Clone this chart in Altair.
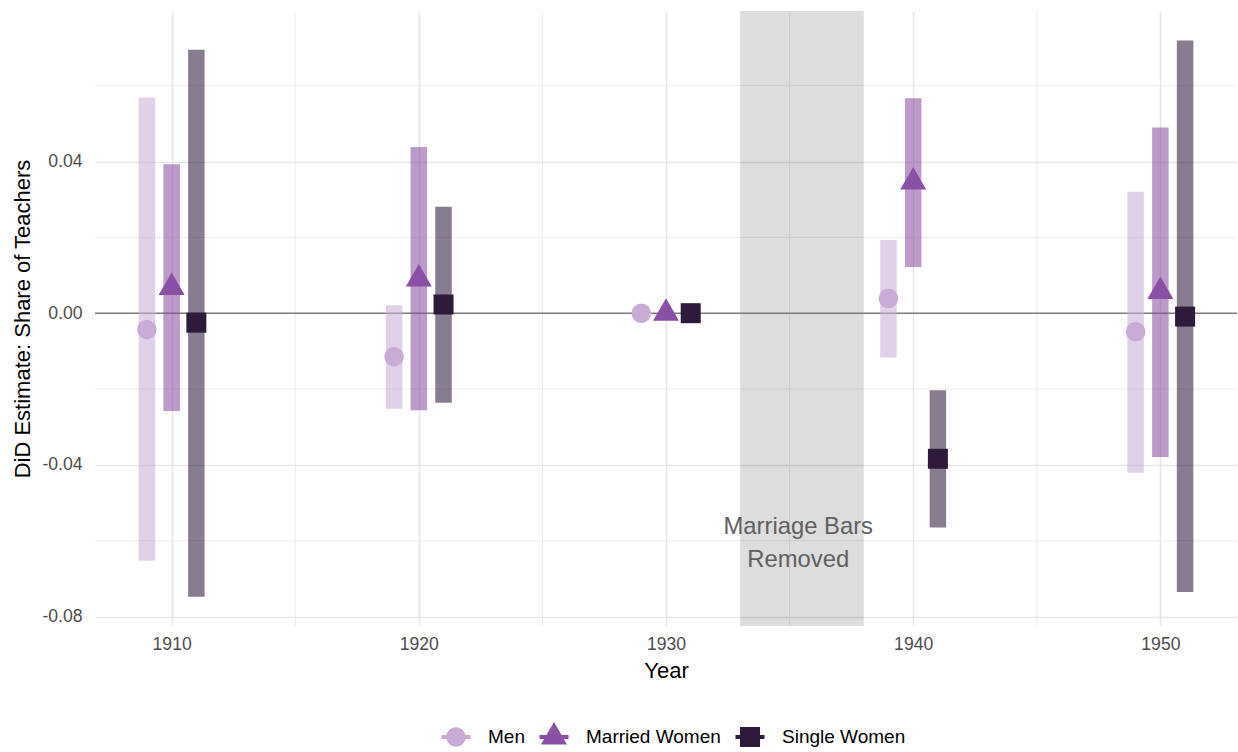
import altair as alt
import pandas as pd

# Census years and the three teacher groups
years = [1910, 1920, 1930, 1940, 1950]
groups = ["Men", "Married Women", "Single Women"]

# DiD estimates with 95% confidence bounds (1930 is the reference year)
men_est = [-0.0043, -0.0115, 0.0, 0.0039, -0.0049]
men_lo = [-0.0653, -0.0252, 0.0, -0.0117, -0.0421]
men_hi = [0.0569, 0.0021, 0.0, 0.0193, 0.0320]

married_est = [0.0068, 0.0090, 0.0, 0.0346, 0.0057]
married_lo = [-0.0258, -0.0256, 0.0, 0.0122, -0.0379]
married_hi = [0.0393, 0.0438, 0.0, 0.0567, 0.0490]

single_est = [-0.0025, 0.0023, 0.0, -0.0384, -0.0009]
single_lo = [-0.0748, -0.0236, 0.0, -0.0565, -0.0735]
single_hi = [0.0695, 0.0281, 0.0, -0.0203, 0.0719]

# Period in which marriage bars were removed
removal_start = [1933]
removal_end = [1938]
removal_label = ["Marriage Bars\nRemoved"]
removal_label_x = [1935.35]
removal_label_y = [-0.0607]

# Axis ticks and minor grid positions
x_ticks = [1910, 1920, 1930, 1940, 1950]
x_minor = [1915, 1925, 1935, 1945]
y_ticks = [-0.08, -0.04, 0.0, 0.04]
y_minor = [-0.06, -0.02, 0.02, 0.06]
ref_line = [0.0]

colors = ["#c8acd6", "#8a50a4", "#2e1b3b"]

# shapes in unit coordinates (10 px per unit at size 400)
shape_circle = "M-0.97,0A0.97,0.97,0,1,1,0.97,0A0.97,0.97,0,1,1,-0.97,0Z"
shape_triangle = "M0,-1.5L1.3,0.75L-1.3,0.75Z"
shape_square = "M-1,-1H1V1H-1Z"
key_bar = "M-1.45,-0.2H1.45V0.2H-1.45Z"
plot_shapes = [shape_circle, shape_triangle, shape_square]
legend_shapes = [s + key_bar for s in plot_shapes]

# dodge each group around its census year
dodge = {"Men": -1, "Married Women": 0, "Single Women": 1}

rows = []
for g, est, lo, hi in [
    ("Men", men_est, men_lo, men_hi),
    ("Married Women", married_est, married_lo, married_hi),
    ("Single Women", single_est, single_lo, single_hi),
]:
    for i, yr in enumerate(years):
        rows.append({"group": g, "year": yr, "xpos": yr + dodge[g],
                     "est": est[i], "lo": lo[i], "hi": hi[i]})
df = pd.DataFrame(rows)

W, H = 1142, 615
FONT = "Liberation Sans"

x_scale = alt.Scale(domain=[1906.9, 1953.1], nice=False, zero=False)
y_scale = alt.Scale(domain=[-0.0825, 0.0797], nice=False, zero=False)
color_scale = alt.Scale(domain=groups, range=colors)

x_axis = alt.Axis(
    values=x_ticks, format="d", title="Year", grid=True,
    gridColor="#e6e6e6", gridWidth=1.6, domain=False, ticks=False,
    labelFontSize=17.6, labelColor="#4d4d4d", labelPadding=9,
    titleFontSize=22, titleColor="#000000", titleFontWeight="normal",
    titleY=51, titleBaseline="alphabetic",
)
y_axis = alt.Axis(
    values=y_ticks, title="DiD Estimate: Share of Teachers", grid=True,
    gridColor="#e6e6e6", gridWidth=1.6, domain=False, ticks=False,
    labelExpr="replace(format(datum.value, '.2f'), '\u2212', '-')",
    labelFontSize=17.6, labelColor="#4d4d4d", labelPadding=13,
    titleFontSize=22, titleColor="#000000", titleFontWeight="normal",
    titleX=-73, titleY=307.5, titleBaseline="middle", titleAngle=270,
)


def X(field):
    return alt.X(field, scale=x_scale, axis=x_axis)


def Y(field):
    return alt.Y(field, scale=y_scale, axis=y_axis)


minor_x = alt.Chart(pd.DataFrame({"x": x_minor})).mark_rule(
    color="#ececec", strokeWidth=1
).encode(x=X("x:Q"))

minor_y = alt.Chart(pd.DataFrame({"y": y_minor})).mark_rule(
    color="#ececec", strokeWidth=1
).encode(y=Y("y:Q"))

band = alt.Chart(pd.DataFrame({"start": removal_start, "end": removal_end})).mark_rect(
    color="#000000", opacity=0.135
).encode(
    x=X("start:Q"),
    x2="end:Q",
    y=alt.value(0),
    y2=alt.value(H),
)

zero = alt.Chart(pd.DataFrame({"y": ref_line})).mark_rule(
    color="#7f7f7f", strokeWidth=1.6
).encode(y=Y("y:Q"))

bars = alt.Chart(df).mark_rule(strokeWidth=16.5, opacity=0.57).encode(
    x=X("xpos:Q"),
    y=Y("lo:Q"),
    y2="hi:Q",
    color=alt.Color("group:N", scale=color_scale, legend=None),
)

points = alt.Chart(df).mark_point(filled=True, size=400, opacity=1, strokeWidth=0).encode(
    x=X("xpos:Q"),
    y=Y("est:Q"),
    color=alt.Color("group:N", scale=color_scale, legend=None),
    shape=alt.Shape("group:N", scale=alt.Scale(domain=groups, range=plot_shapes), legend=None),
)

label = alt.Chart(pd.DataFrame({"x": removal_label_x, "y": removal_label_y,
                                "t": removal_label})).mark_text(
    fontSize=23.8, color="#606060", lineBreak="\n", lineHeight=33,
    align="center", baseline="middle", font=FONT, dy=-16.5,
).encode(
    x=X("x:Q"),
    y=Y("y:Q"),
    text="t:N",
)

legend_layer = alt.Chart(pd.DataFrame({"series": groups})).transform_filter(
    "false"
).mark_point(filled=True, size=400, opacity=1, strokeWidth=0).encode(
    x=X("xpos:Q"),
    y=Y("est:Q"),
    color=alt.Color("series:N", scale=color_scale, legend=alt.Legend(
        title=None, orient="none", legendX=351, legendY=716,
        direction="horizontal", labelFontSize=19, labelColor="#000000",
        labelOffset=22, columnPadding=14, symbolSize=400, symbolStrokeWidth=0,
        labelFont=FONT,
    )),
    shape=alt.Shape("series:N", scale=alt.Scale(domain=groups, range=legend_shapes)),
)

chart = alt.layer(
    minor_x, minor_y, band, zero, bars, points, label, legend_layer
).resolve_scale(
    color="independent", shape="independent"
).properties(
    width=W, height=H,
    padding={"left": 95, "top": 11, "right": 1, "bottom": 126},
    autosize=alt.AutoSizeParams(type="none"),
).configure(
    font=FONT,
).configure_view(
    stroke=None,
)

chart.save("out.html", embed_options={"renderer": "svg", "actions": False})
